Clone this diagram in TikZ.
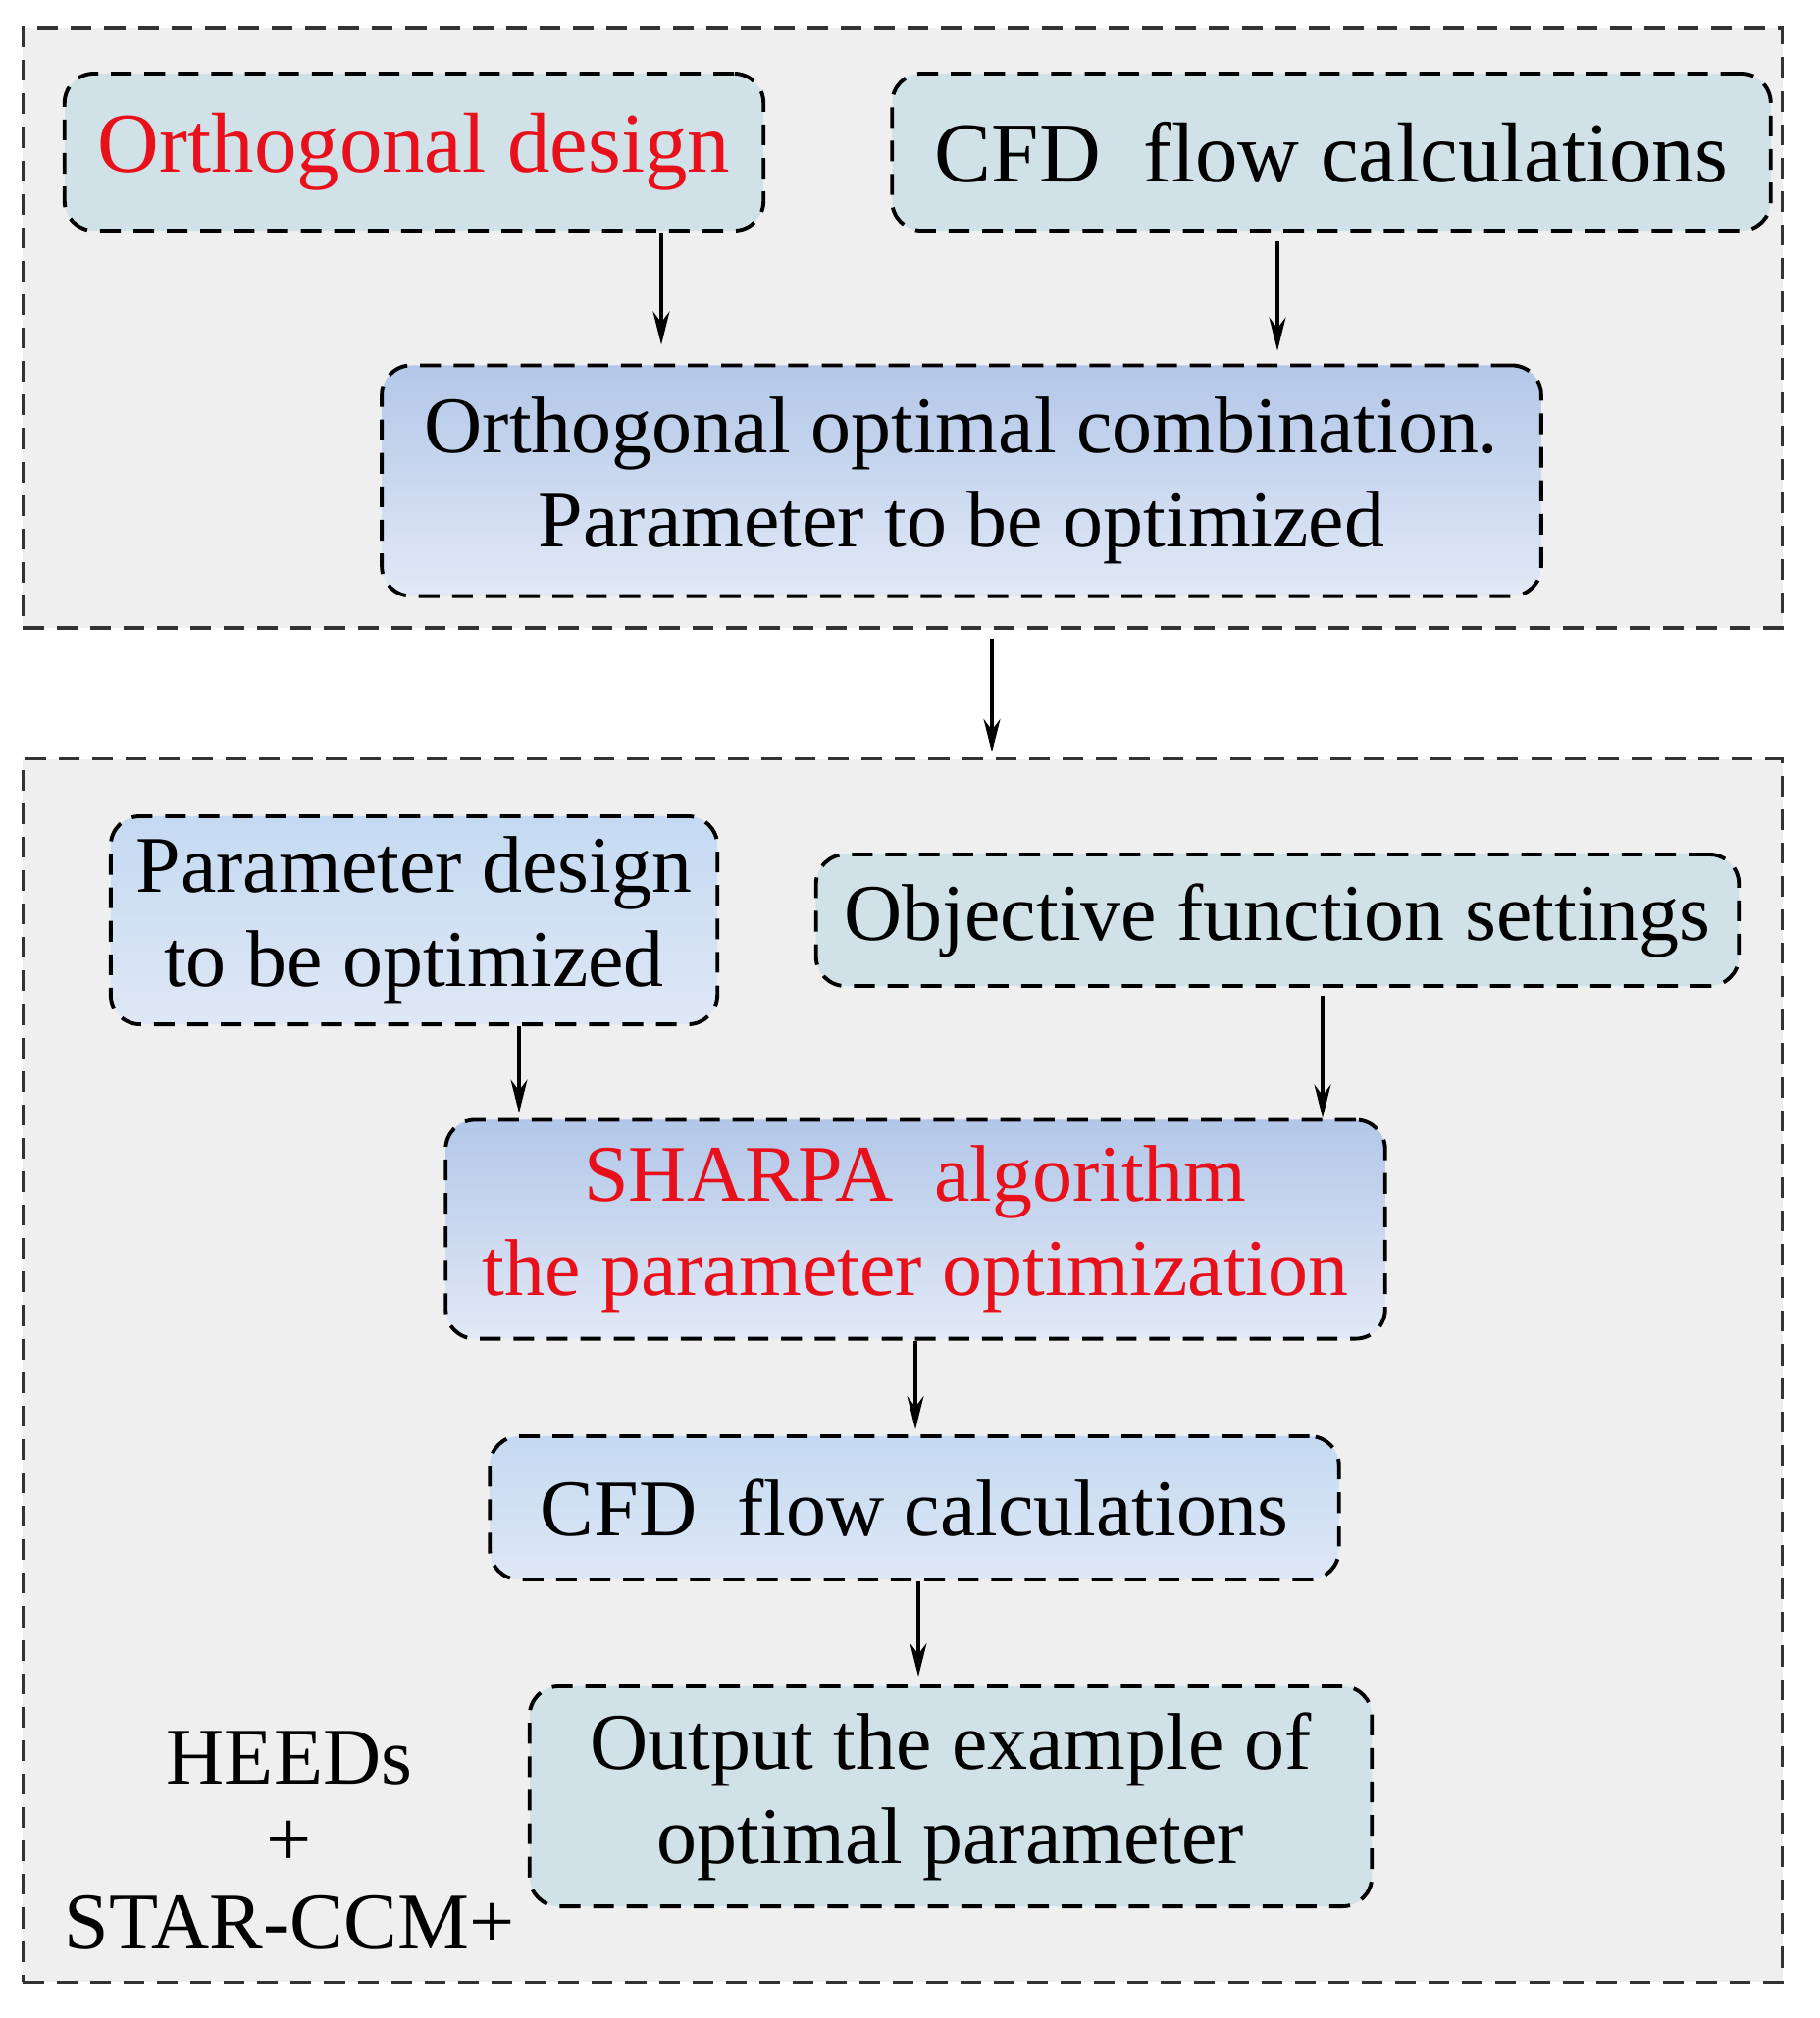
\documentclass[tikz,border=0pt]{standalone}
\usepackage{fontspec}
\setmainfont{Liberation Serif}
\usetikzlibrary{arrows.meta}
\definecolor{bggray}{RGB}{239,239,239}
\definecolor{flatblue}{RGB}{208,226,232}
\definecolor{gradtop}{RGB}{178,199,232}
\definecolor{gradbot}{RGB}{226,233,246}
\definecolor{softtop}{RGB}{196,218,242}
\definecolor{softbot}{RGB}{222,231,245}
\definecolor{textred}{RGB}{232,16,26}
\begin{document}
\begin{tikzpicture}[x=0.01cm,y=-0.01cm,
		box/.style={draw,dash pattern=on 6pt off 3.7pt,line width=1.1pt,rounded corners=0.3cm,inner sep=0pt,align=center,font=\fontsize{23.3}{27.3}\selectfont},
		bigtext/.style={font=\fontsize{24.7}{29}\selectfont},
		flatbox/.style={box,fill=flatblue},
		gradbox/.style={box,top color=gradtop,bottom color=gradbot},
		softbox/.style={box,top color=softtop,bottom color=softbot},
		group/.style={fill=bggray,draw=black!80,dash pattern=on 6pt off 3.7pt,line width=1pt,inner sep=0pt},
		arr/.style={line width=0.9pt,-{Stealth[length=0.34cm,width=0.17cm]}}]
		\useasboundingbox (0,0) rectangle (1855,2057);
		%
		\node[group,minimum width=17.92cm,minimum height=6.11cm] (upper) at (920,334.5) {};
		\node[group,minimum width=17.92cm,minimum height=12.46cm] (lower) at (920,1397) {};
		%
		\node[flatbox,bigtext,text=textred,minimum width=7.12cm,minimum height=1.6cm] (od) at (422,155) {Orthogonal design};
		\node[flatbox,bigtext,minimum width=8.95cm,minimum height=1.6cm] (cfdA) at (1357,155) {CFD\ \ flow calculations};
		\node[gradbox,minimum width=11.81cm,minimum height=2.35cm] (ooc) at (980,490) {Orthogonal optimal combination.\\Parameter to be optimized};
		%
		\node[softbox,minimum width=6.18cm,minimum height=2.12cm] (pd) at (422,938) {Parameter design\\ to be optimized};
		\node[flatbox,minimum width=9.4cm,minimum height=1.34cm] (ofs) at (1302,938) {Objective function settings};
		\node[gradbox,text=textred,minimum width=9.57cm,minimum height=2.23cm] (sharpa) at (933,1253) {SHARPA\ \ algorithm\\the parameter optimization};
		\node[softbox,minimum width=8.65cm,minimum height=1.46cm] (cfdB) at (932,1537) {CFD\ \ flow calculations};
		\node[flatbox,minimum width=8.58cm,minimum height=2.24cm] (out) at (969,1831) {Output the example of\\optimal parameter};
		\node[align=center,font=\fontsize{23.3}{24}\selectfont] (heeds) at (295,1876) {HEEDs\\+\\STAR-CCM+};
		%
		\draw[arr,shorten >=0.19cm] (od.south -| 674,0) -- (ooc.north -| 674,0);
		\draw[arr,shorten <=0.09cm,shorten >=0.13cm] (cfdA.south -| 1302,0) -- (ooc.north -| 1302,0);
		\draw[arr,shorten <=0.09cm,shorten >=0.05cm] (upper.south -| 1011,0) -- (lower.north -| 1011,0);
		\draw[arr,shorten >=0.05cm] (pd.south -| 529,0) -- (sharpa.north -| 529,0);
		\draw[arr,shorten <=0.08cm] (ofs.south -| 1348,0) -- (sharpa.north -| 1348,0);
		\draw[arr,shorten >=0.05cm] (sharpa.south -| 933,0) -- (cfdB.north -| 933,0);
		\draw[arr,shorten >=0.08cm] (cfdB.south -| 936,0) -- (out.north -| 936,0);
		%
\end{tikzpicture}
\end{document}
